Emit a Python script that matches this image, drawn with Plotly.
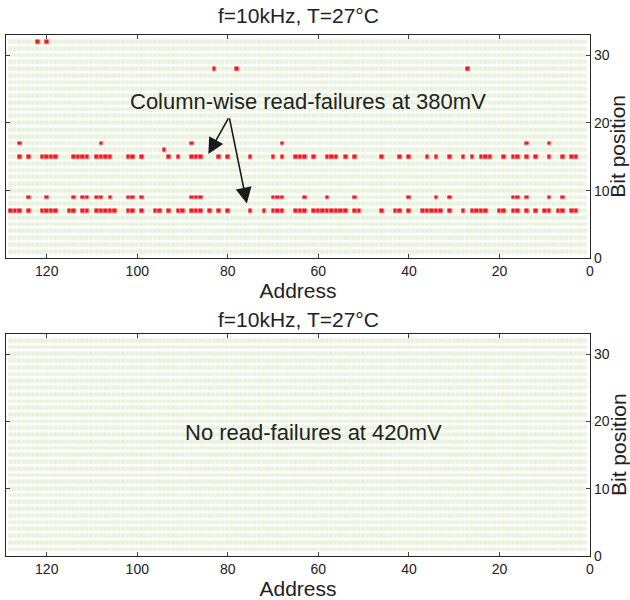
import plotly.graph_objects as go

# ---------------- data ----------------
addresses = list(range(1, 129))
bits = list(range(1, 33))

fail_bit32 = [122, 120]
fail_bit28 = [83, 78, 27]
fail_bit17 = [126, 108, 88, 68, 14, 9]
fail_bit16 = [94]
fail_bit15 = [126, 124, 121, 120, 119, 118, 114, 113, 112, 111, 109, 108, 107, 106,
              102, 101, 99, 93, 91, 88, 87, 86, 82, 80, 75, 70, 68, 65, 64, 63, 61,
              58, 57, 56, 54, 52, 46, 42, 40, 36, 34, 31, 28, 26, 24, 23, 22, 19, 17,
              16, 14, 12, 9, 6, 4, 3]
fail_bit9 = [124, 120, 114, 112, 111, 109, 108, 106, 102, 101, 99, 88, 87, 86, 70, 69,
             68, 63, 58, 52, 40, 34, 31, 17, 16, 14, 9, 6]
fail_bit7 = [128, 127, 126, 124, 121, 120, 119, 118, 115, 114, 112, 111, 109, 108, 107,
             106, 105, 102, 101, 99, 96, 95, 93, 91, 90, 88, 87, 86, 84, 82, 80, 75, 72,
             70, 69, 68, 65, 64, 63, 61, 60, 59, 58, 57, 56, 55, 54, 52, 51, 46, 43, 42,
             40, 37, 36, 35, 34, 33, 31, 28, 26, 25, 24, 23, 20, 19, 17, 16, 14, 12, 10,
             9, 7, 6, 4, 3]

failures_380mV = {32: fail_bit32, 28: fail_bit28, 17: fail_bit17, 16: fail_bit16,
                  15: fail_bit15, 9: fail_bit9, 7: fail_bit7}
failures_420mV = {}

x_ticks = [0, 20, 40, 60, 80, 100, 120]
y_ticks = [0, 10, 20, 30]
panel_title = "f=10kHz, T=27°C"
x_title = "Address"
y_title = "Bit position"
label_380 = "Column-wise read-failures at 380mV"
label_420 = "No read-failures at 420mV"


def build_z(fails):
    return [[1 if a in fails.get(b, []) else 0 for a in addresses] for b in bits]


GREEN = "#E8F2DC"
RED = "#ED1C24"
FONT = "Liberation Sans, Arial, sans-serif"
INK = "#222222"

fig = go.Figure()
for z, xa, ya in [(build_z(failures_380mV), "x", "y"), (build_z(failures_420mV), "x2", "y2")]:
    fig.add_trace(go.Heatmap(
        x=addresses, y=bits, z=z, xaxis=xa, yaxis=ya,
        zmin=0, zmax=1, colorscale=[[0, GREEN], [0.5, GREEN], [0.5, RED], [1, RED]],
        showscale=False, xgap=0.5, ygap=2.5, hoverinfo="skip"))

axis_common = dict(
    showline=True, linecolor="#262626", linewidth=1.3, mirror="ticks",
    ticks="inside", ticklen=4, tickwidth=1, tickcolor="#444444",
    showgrid=False, zeroline=False, automargin=False,
    tickfont=dict(family=FONT, size=14, color=INK),
)

top_dom = [0.5714, 1.0]
bot_dom = [0.0, 0.4261]

fig.update_layout(
    width=630, height=600,
    margin=dict(l=6, r=40, t=35, b=44),
    paper_bgcolor="white", plot_bgcolor="white",
    showlegend=False,
    font=dict(family=FONT, color=INK),
    xaxis=dict(axis_common, domain=[0, 1], anchor="y", range=[129, 0], tickvals=x_ticks,
               title=dict(text=x_title, font=dict(family=FONT, size=21, color=INK), standoff=5)),
    yaxis=dict(axis_common, domain=top_dom, anchor="x", range=[0, 33], tickvals=y_ticks,
               side="right"),
    xaxis2=dict(axis_common, domain=[0, 1], anchor="y2", range=[129, 0], tickvals=x_ticks,
                title=dict(text=x_title, font=dict(family=FONT, size=21, color=INK), standoff=5)),
    yaxis2=dict(axis_common, domain=bot_dom, anchor="x2", range=[0, 33], tickvals=y_ticks,
                side="right"),
)

annotations = [
    dict(text=panel_title, xref="paper", yref="paper", x=0.5, y=1.0365, yanchor="middle",
         showarrow=False, font=dict(family=FONT, size=21, color=INK)),
    dict(text=panel_title, xref="paper", yref="paper", x=0.5, y=0.453, yanchor="middle",
         showarrow=False, font=dict(family=FONT, size=21, color=INK)),
    dict(text=label_380, xref="x", yref="y", x=62.2, y=23.2, showarrow=False,
         font=dict(family=FONT, size=22, color=INK)),
    dict(text=label_420, xref="x2", yref="y2", x=61, y=18.3, showarrow=False,
         font=dict(family=FONT, size=22, color=INK)),
]
for dom in (top_dom, bot_dom):
    annotations.append(dict(
        text=y_title, xref="paper", yref="paper", x=1.048, y=(dom[0] + dom[1]) / 2,
        xanchor="center", yanchor="middle", textangle=-90, showarrow=False,
        font=dict(family=FONT, size=21, color=INK)))
for hx, hy in [(84.3, 15.4), (75.8, 8.1)]:
    annotations.append(dict(
        text="", xref="x", yref="y", axref="x", ayref="y", x=hx, y=hy, ax=79.7, ay=20.9,
        showarrow=True, arrowhead=2, arrowsize=2.0, arrowwidth=1.6, arrowcolor="#1a1a1a",
        standoff=0, startstandoff=0))
fig.update_layout(annotations=annotations)

fig.write_html("out.html", config={"displayModeBar": False},
               post_script="document.body.style.margin='0';document.body.style.padding='0';")
